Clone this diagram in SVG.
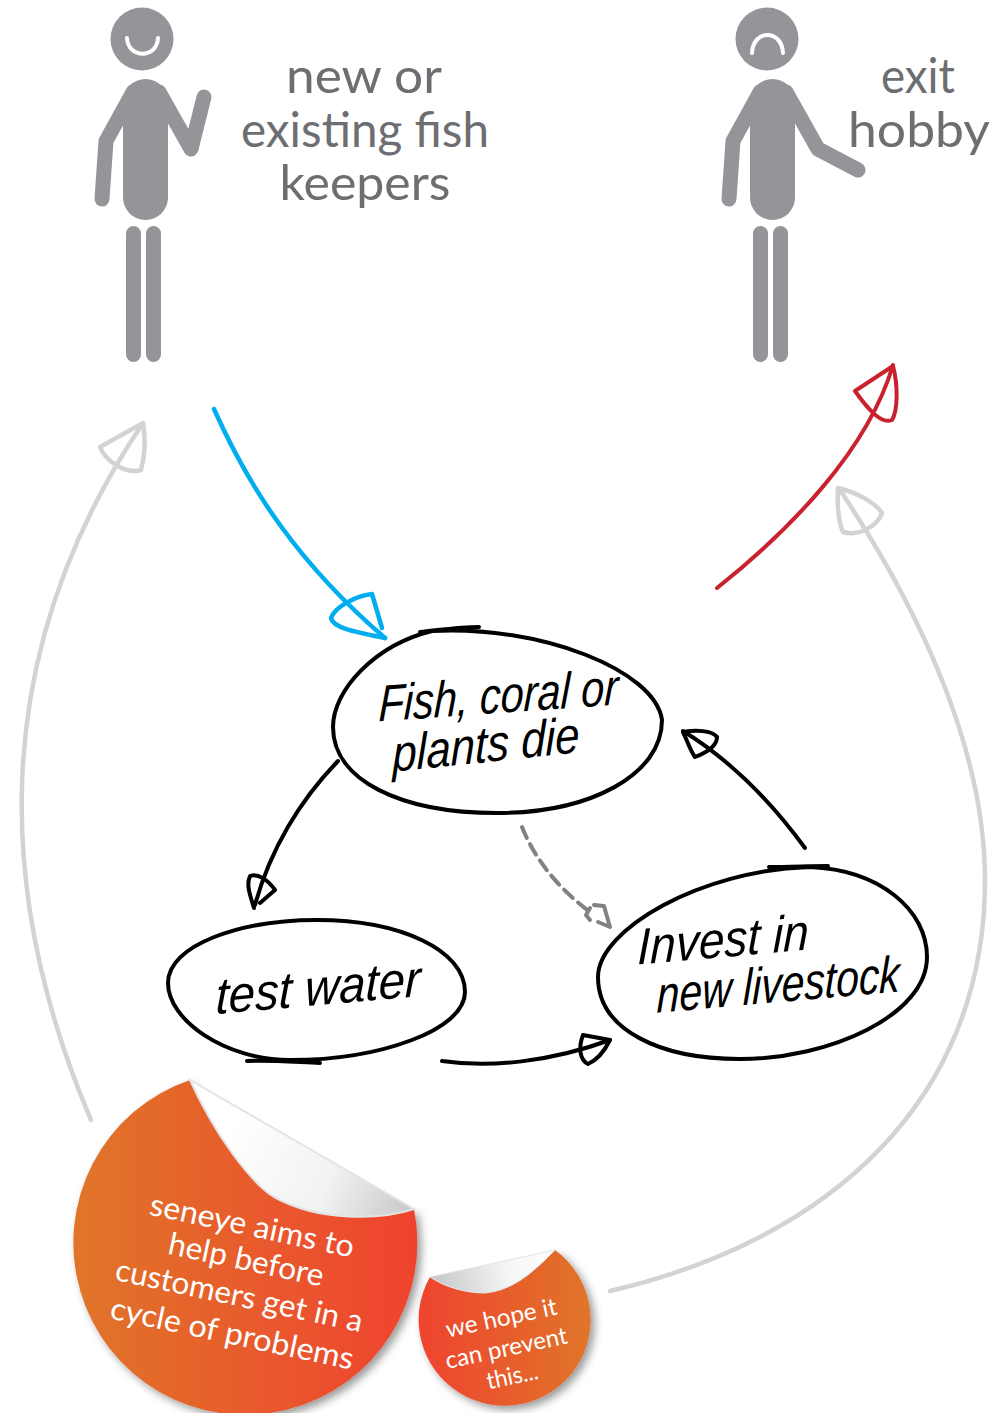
<svg xmlns="http://www.w3.org/2000/svg" width="1002" height="1413" viewBox="0 0 1002 1413">
<style>
.limb{fill:none;stroke:#939598;stroke-width:15;stroke-linecap:round;stroke-linejoin:round}
.body{fill:#939598}
.face{fill:none;stroke:#fff;stroke-width:4;stroke-linecap:round}
.title{font-family:"Lato","Open Sans",sans-serif;font-size:48px;fill:#6d6e71;text-anchor:middle}
.hand{font-family:"Liberation Sans",sans-serif;font-style:italic;font-size:51px;fill:#000;text-anchor:middle}
.oval{fill:none;stroke:#000;stroke-width:4;stroke-linecap:round}
.conn{fill:none;stroke-width:4;stroke-linecap:round;stroke-linejoin:round}
.wide{stroke-width:4.5}
.stk{font-family:"Lato","Open Sans",sans-serif;fill:#fff;text-anchor:middle}
</style>
<defs>
<linearGradient id="g1" gradientUnits="userSpaceOnUse" x1="75" y1="0" x2="415" y2="0"><stop offset="0" stop-color="#e0752a"/><stop offset="1" stop-color="#ef432f"/></linearGradient>
<linearGradient id="g2" gradientUnits="userSpaceOnUse" x1="418" y1="0" x2="590" y2="0"><stop offset="0" stop-color="#ef432f"/><stop offset="1" stop-color="#e0752a"/></linearGradient>
<linearGradient id="f1" gradientUnits="userSpaceOnUse" x1="230" y1="1130" x2="414" y2="1215"><stop offset="0" stop-color="#fff"/><stop offset=".55" stop-color="#f1f2f2"/><stop offset="1" stop-color="#c4c6c8"/></linearGradient>
<linearGradient id="f2" gradientUnits="userSpaceOnUse" x1="430" y1="1277" x2="555" y2="1250"><stop offset="0" stop-color="#c4c6c8"/><stop offset=".6" stop-color="#f4f5f5"/><stop offset="1" stop-color="#fff"/></linearGradient>
<filter id="sh" x="-10%" y="-10%" width="125%" height="125%"><feDropShadow dx="4" dy="4" stdDeviation="4" flood-color="#000" flood-opacity=".4"/></filter>
</defs>

<g id="connectors">
<g class="conn wide" stroke="#00aeef"><path d="M214,409 C250,490 300,565 385,638"/><path d="M382,628 L372,594 C355,596 335,607 331,618 C333,628 355,632 385,638"/></g>
<g class="conn" stroke="#c9222e"><path d="M717,588 C790,530 868,450 893,365"/><path d="M855,391 L893,366 C898,385 898,410 892,420 C880,425 865,405 855,391"/></g>
<g class="conn wide" stroke="#d1d3d4"><path d="M91,1120 C10,930 -30,680 143,423"/><path d="M143,423 L100,447 C105,460 125,475 141,470 C145,455 146,440 143,423"/></g>
<g class="conn wide" stroke="#d1d3d4"><path d="M610,1291 C830,1240 985,1100 985,880 C985,750 920,610 840,490"/><path d="M838,488 C855,492 875,502 882,513 C878,525 860,537 843,532 C838,520 837,505 838,488"/></g>
<g class="conn" stroke="#000"><path d="M338,761 C300,800 270,850 255,905"/><path d="M260,903 L275,890 C268,880 258,873 250,876 C246,885 250,895 254,908"/></g>
<g class="conn" stroke="#000"><path d="M442,1061 C490,1068 550,1062 610,1040"/><path d="M610,1040 L583,1035 C578,1048 580,1060 588,1064 C597,1060 605,1050 610,1040"/></g>
<g class="conn" stroke="#000"><path d="M805,848 C770,800 730,760 683,731"/><path d="M683,732 C695,730 712,730 717,737 C717,745 708,752 695,757 C690,750 687,740 683,732"/></g>
<g class="conn" stroke="#808285"><path d="M522,827 C535,860 560,890 590,912" stroke-dasharray="12 7"/><path d="M610,927 L604,906 L594,905 M590,908 L586,915 L590,920 M598,922 L610,927" /></g>
</g>

<g id="person-new">
<circle class="body" cx="142" cy="39" r="31.5"/>
<path class="face" d="M127,38 C128,59 157,59 158,38" />
<rect class="body" x="123" y="79" width="45" height="141" rx="22.5"/>
<path class="limb" d="M133,92 L106,141 L102,199"/><path class="limb" d="M159,92 L191,149 L204,97"/>
<rect class="body" x="126" y="226" width="15" height="136" rx="7.5"/><rect class="body" x="146" y="226" width="15" height="136" rx="7.5"/>
<text class="title" x="364" y="93" textLength="156" lengthAdjust="spacingAndGlyphs">new or</text>
<text class="title" x="365" y="147" textLength="248" lengthAdjust="spacingAndGlyphs">existing fish</text>
<text class="title" x="365" y="200" textLength="171" lengthAdjust="spacingAndGlyphs">keepers</text>
</g>

<g id="person-exit">
<circle class="body" cx="767" cy="39" r="31.5"/>
<path class="face" d="M752,53 C753,29 782,29 783,53"/>
<rect class="body" x="750" y="79" width="45" height="141" rx="22.5"/>
<path class="limb" d="M760,92 L733,141 L729,199"/><path class="limb" d="M786,92 L818,149 L858,170"/>
<rect class="body" x="753" y="226" width="15" height="136" rx="7.5"/><rect class="body" x="773" y="226" width="15" height="136" rx="7.5"/>
<text class="title" x="918" y="93" textLength="74" lengthAdjust="spacingAndGlyphs">exit</text>
<text class="title" x="919" y="147" textLength="142" lengthAdjust="spacingAndGlyphs">hobby</text>
</g>

<g id="node-die">
<path class="oval" d="M420,632 C440,630 460,627 479,627"/>
<path class="oval" d="M432,631 C540,625 655,670 662,720 C662,775 590,813 497,813 C400,813 333,780 333,727 C333,690 375,645 432,631"/>
<text class="hand" transform="translate(498,713) rotate(-4) skewX(-6)" textLength="240" lengthAdjust="spacingAndGlyphs">Fish, coral or</text>
<text class="hand" transform="translate(486,762) rotate(-6) skewX(-6)" textLength="188" lengthAdjust="spacingAndGlyphs">plants die</text>
</g>

<g id="node-test">
<path class="oval" d="M247,1061 C270,1060 295,1062 320,1063"/>
<path class="oval" d="M317,920 C400,920 465,950 465,992 C465,1030 380,1060 290,1060 C225,1060 168,1020 168,983 C168,945 240,920 317,920"/>
<text class="hand" transform="translate(318,1005) rotate(-5) skewX(-6)" textLength="206" lengthAdjust="spacingAndGlyphs">test water</text>
</g>

<g id="node-invest">
<path class="oval" d="M769,867 C790,867 810,866 828,866"/>
<path class="oval" d="M810,867 C880,870 927,910 927,957 C927,1015 830,1059 740,1059 C660,1059 598,1030 598,977 C598,930 700,870 810,867"/>
<text class="hand" transform="translate(723,957) rotate(-5) skewX(-6)" textLength="172" lengthAdjust="spacingAndGlyphs">Invest in</text>
<text class="hand" transform="translate(778,1002) rotate(-5) skewX(-6)" textLength="244" lengthAdjust="spacingAndGlyphs">new livestock</text>
</g>

<g id="sticker-big">
<path d="M190,1080 A172,172 0 1 0 414,1209 C380,1220 320,1222 274,1197 C250,1182 215,1135 190,1080 Z" fill="url(#g1)" filter="url(#sh)"/>
<path d="M190,1080 L414,1209 C380,1220 320,1222 274,1197 C250,1182 215,1135 190,1080 Z" fill="url(#f1)" stroke="#e3e4e5" stroke-width="2"/>
<g class="stk" font-size="31">
<text transform="translate(250,1236) rotate(12)" textLength="208" lengthAdjust="spacingAndGlyphs">seneye aims to</text>
<text transform="translate(244,1270) rotate(12)" textLength="158" lengthAdjust="spacingAndGlyphs">help before</text>
<text transform="translate(237,1306) rotate(12)" textLength="252" lengthAdjust="spacingAndGlyphs">customers get in a</text>
<text transform="translate(230,1344) rotate(12)" textLength="248" lengthAdjust="spacingAndGlyphs">cycle of problems</text>
</g>
</g>

<g id="sticker-small">
<path d="M430,1277 A86,86 0 1 0 555,1250 C535,1270 515,1290 485,1293 C465,1293 445,1287 430,1277 Z" fill="url(#g2)" filter="url(#sh)"/>
<path d="M430,1277 L555,1250 C535,1270 515,1290 485,1293 C465,1293 445,1287 430,1277 Z" fill="url(#f2)" stroke="#e3e4e5" stroke-width="1"/>
<g class="stk" font-size="24">
<text transform="translate(503,1326) rotate(-12)" textLength="113" lengthAdjust="spacingAndGlyphs">we hope it</text>
<text transform="translate(508,1356) rotate(-12)" textLength="124" lengthAdjust="spacingAndGlyphs">can prevent</text>
<text transform="translate(514,1384) rotate(-12)" textLength="52" lengthAdjust="spacingAndGlyphs">this...</text>
</g>
</g>
</svg>
